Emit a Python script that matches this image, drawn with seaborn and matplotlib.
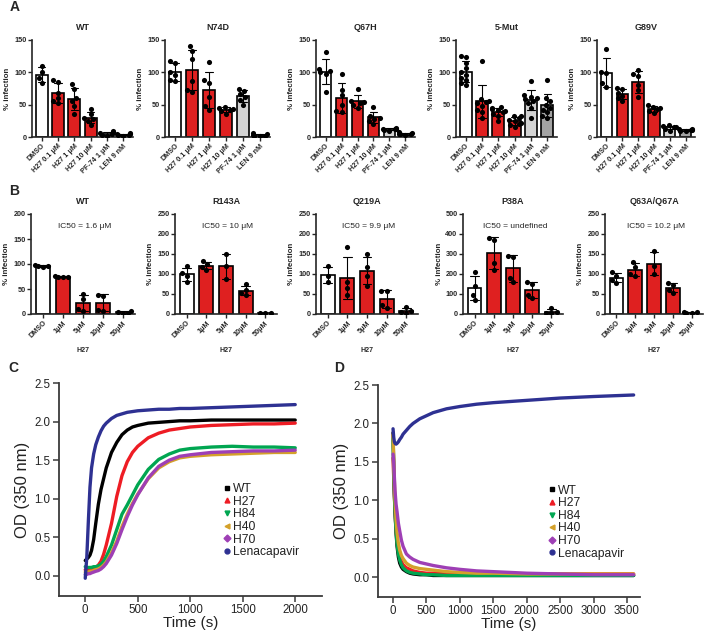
import warnings
import pandas as pd
import matplotlib
matplotlib.use("Agg")
import matplotlib.pyplot as plt
from matplotlib.lines import Line2D
import seaborn as sns

warnings.filterwarnings("ignore")

# --- Panel A: % infection per condition (individual replicates) ---
a_conditions = ["DMSO", "H27 0.1 μM", "H27 1 μM", "H27 10 μM", "PF-74 1 μM", "LEN 9 nM"]
a_titles = ["WT", "N74D", "Q67H", "5-Mut", "G89V"]
a_wt = [[110, 101, 91, 84], [88, 85, 68, 60, 55, 52], [82, 75, 60, 55, 48, 35],
        [44, 35, 30, 28, 25, 18], [9, 8, 6, 4, 3, 2], [6, 5, 4, 3, 2, 3]]
a_n74d = [[118, 115, 100, 96, 88, 86], [140, 133, 120, 86, 73, 70], [116, 88, 84, 62, 48, 42],
          [46, 45, 43, 42, 40, 36], [75, 71, 66, 62, 57, 50], [6, 4, 3, 2, 2, 1]]
a_q67h = [[132, 105, 102, 100, 98, 70], [98, 73, 65, 50, 40, 38], [75, 56, 54, 52, 50, 45],
          [46, 33, 30, 28, 25, 20], [14, 13, 12, 12, 11, 10], [7, 6, 5, 4, 4, 3]]
a_5mut = [[126, 124, 115, 107, 100, 96, 92, 88, 84, 80], [118, 58, 56, 54, 52, 48, 42, 38, 30],
          [47, 45, 43, 41, 40, 38, 36, 33, 25], [33, 32, 30, 27, 25, 22, 20, 18, 15],
          [87, 65, 62, 60, 58, 55, 52, 45, 30], [88, 60, 55, 50, 45, 42, 38, 32, 30]]
a_g89v = [[136, 101, 99, 83, 78], [76, 74, 68, 64, 60, 56], [104, 98, 95, 80, 72, 62],
          [50, 47, 45, 43, 40, 37], [18, 17, 16, 15, 13, 10], [13, 12, 11, 11, 10, 9]]

# --- Panel B: H27 dose response ---
b_conditions = ["DMSO", "1μM", "5μM", "10μM", "50μM"]
b_titles = ["WT", "R143A", "Q219A", "P38A", "Q63A/Q67A"]
b_ic50 = ["IC50 = 1.6 μM", "IC50 = 10 μM", "IC50 = 9.9 μM", "IC50 = undefined", "IC50 = 10.2 μM"]
b_ymax = [200, 250, 250, 500, 250]
b_ystep = [50, 50, 50, 100, 50]
b_wt = [[99, 97, 96, 94], [76, 75, 75, 74], [41, 30, 10, 7], [38, 36, 9, 6], [6, 4, 2, 1]]
b_r143a = [[120, 102, 96, 80], [133, 124, 118, 110], [150, 120, 88], [75, 60, 52, 47], [3, 2, 2]]
b_q219a = [[120, 95, 80], [168, 80, 64, 48], [150, 118, 95, 70], [58, 57, 22, 15], [18, 8, 4, 2]]
b_p38a = [[208, 140, 95, 70], [380, 368, 255, 218], [288, 285, 180, 160], [160, 148, 95, 78], [30, 10, 5, 3]]
b_q63a = [[104, 95, 85, 78], [130, 118, 100, 94], [157, 120, 100], [77, 72, 60, 52], [5, 4, 3, 2]]

# --- Panel C: assembly kinetics, OD 350 nm ---
samples = ["WT", "H27", "H84", "H40", "H70", "Lenacapavir"]
c_time = [0, 15, 30, 45, 60, 80, 100, 125, 150, 175, 200, 250, 300, 350, 400, 450, 500,
          600, 700, 800, 900, 1000, 1200, 1400, 1600, 1800, 2000]
c_wt = [0.20, 0.22, 0.24, 0.27, 0.33, 0.47, 0.68, 0.93, 1.12, 1.26, 1.40, 1.60, 1.73, 1.83, 1.89,
        1.93, 1.95, 1.98, 1.99, 2.00, 2.01, 2.01, 2.02, 2.02, 2.02, 2.02, 2.02]
c_h27 = [0.08, 0.08, 0.08, 0.09, 0.09, 0.10, 0.11, 0.14, 0.19, 0.28, 0.40, 0.68, 1.03, 1.30, 1.48,
         1.60, 1.68, 1.79, 1.85, 1.89, 1.91, 1.93, 1.95, 1.96, 1.97, 1.97, 1.98]
c_h84 = [0.12, 0.11, 0.11, 0.11, 0.11, 0.12, 0.12, 0.13, 0.15, 0.19, 0.25, 0.40, 0.60, 0.80, 0.92,
         1.05, 1.18, 1.38, 1.51, 1.58, 1.63, 1.65, 1.67, 1.68, 1.67, 1.67, 1.66]
c_h40 = [0.05, 0.05, 0.05, 0.06, 0.06, 0.07, 0.08, 0.09, 0.11, 0.14, 0.18, 0.30, 0.45, 0.64, 0.80,
         0.94, 1.06, 1.26, 1.40, 1.48, 1.53, 1.55, 1.57, 1.58, 1.59, 1.60, 1.60]
c_h70 = [0.02, 0.02, 0.03, 0.03, 0.04, 0.05, 0.06, 0.07, 0.09, 0.12, 0.16, 0.27, 0.42, 0.60, 0.77,
         0.92, 1.05, 1.27, 1.42, 1.50, 1.55, 1.57, 1.60, 1.61, 1.62, 1.62, 1.63]
c_len = [-0.03, 0.25, 0.72, 1.15, 1.40, 1.58, 1.70, 1.80, 1.88, 1.94, 1.98, 2.04, 2.08, 2.10, 2.12,
         2.13, 2.14, 2.15, 2.16, 2.16, 2.17, 2.17, 2.18, 2.19, 2.20, 2.21, 2.22]

# --- Panel D: disassembly kinetics ---
d_time = [0, 10, 20, 30, 45, 60, 80, 100, 125, 150, 200, 250, 300, 400, 500, 600, 800, 1000,
          1250, 1500, 2000, 2500, 3000, 3600]
d_wt = [1.88, 1.45, 1.10, 0.85, 0.58, 0.40, 0.26, 0.18, 0.13, 0.10, 0.07, 0.05, 0.04, 0.03, 0.03,
        0.02, 0.02, 0.02, 0.02, 0.02, 0.02, 0.02, 0.02, 0.02]
d_h27 = [1.55, 1.30, 1.05, 0.85, 0.62, 0.47, 0.34, 0.26, 0.20, 0.16, 0.12, 0.10, 0.08, 0.06, 0.05,
         0.05, 0.04, 0.04, 0.04, 0.04, 0.04, 0.04, 0.04, 0.04]
d_h84 = [1.80, 1.40, 1.08, 0.85, 0.60, 0.43, 0.30, 0.22, 0.16, 0.12, 0.08, 0.06, 0.05, 0.04, 0.03,
         0.03, 0.02, 0.02, 0.02, 0.02, 0.02, 0.02, 0.02, 0.02]
d_h40 = [1.85, 1.55, 1.25, 1.00, 0.75, 0.58, 0.44, 0.35, 0.28, 0.24, 0.18, 0.15, 0.13, 0.11, 0.10,
         0.09, 0.07, 0.06, 0.05, 0.05, 0.04, 0.04, 0.04, 0.04]
d_h70 = [1.60, 1.50, 1.30, 1.12, 0.95, 0.85, 0.70, 0.60, 0.48, 0.40, 0.30, 0.26, 0.23, 0.19, 0.17,
         0.15, 0.12, 0.10, 0.08, 0.07, 0.05, 0.04, 0.03, 0.03]
d_len = [1.93, 1.82, 1.76, 1.74, 1.73, 1.74, 1.76, 1.79, 1.82, 1.86, 1.91, 1.96, 2.00, 2.06, 2.10,
         2.14, 2.19, 2.22, 2.25, 2.27, 2.30, 2.33, 2.35, 2.37]

RED = "#ff0000"
a_colors = ["white", RED, RED, RED, "#d3d3d3", "#a3a3a3"]
b_colors = ["white", RED, RED, RED, RED]
curve_colors = ["#000000", "#ee1c24", "#00a651", "#d4a12a", "#9e3fb5", "#2e3192"]
curve_markers = ["s", "^", "v", "<", "D", "o"]

W, H = 705, 634
sns.set_style("ticks")
plt.rcParams["font.family"] = ["Liberation Sans", "DejaVu Sans"]
fig = plt.figure(figsize=(W / 100, H / 100), dpi=100)


def px_axes(left, top, right, bottom):
    return fig.add_axes([left / W, 1 - bottom / H, (right - left) / W, (bottom - top) / H])


def bar_panel(ax, cats, groups, colors, ymax, ystep, title):
    rows = [(c, v) for c, g in zip(cats, groups) for v in g]
    df = pd.DataFrame(rows, columns=["cond", "val"])
    sns.barplot(data=df, x="cond", y="val", hue="cond", order=cats, hue_order=cats,
                palette=dict(zip(cats, colors)), errorbar="sd", capsize=0.45,
                err_kws={"color": "black", "linewidth": 0.8}, edgecolor="black",
                linewidth=1.2, width=0.72, legend=False, ax=ax)
    sns.swarmplot(data=df, x="cond", y="val", order=cats, color="black", size=3.7, ax=ax)
    ax.set_ylim(0, ymax)
    ax.set_yticks(range(0, ymax + 1, ystep))
    ax.set_xlim(-0.6, len(cats) - 0.4)
    sns.despine(ax=ax)
    for s in ["left", "bottom"]:
        ax.spines[s].set_linewidth(1.2)
    ax.tick_params(width=1, length=3, labelsize=5.2, pad=1)
    ax.set_xticks(range(len(cats)))
    ax.set_xticklabels(cats, rotation=45, ha="right", rotation_mode="anchor", fontweight="bold")
    for lbl in ax.get_yticklabels():
        lbl.set_fontweight("bold")
    ax.set_xlabel("")
    ax.set_ylabel("% infection", fontsize=5.7, fontweight="bold", labelpad=2)
    ax.set_title(title, fontsize=6.5, fontweight="bold", pad=7)


# Panel A
a_data = [a_wt, a_n74d, a_q67h, a_5mut, a_g89v]
a_left = [32, 165, 316, 456, 597]
a_right = [133, 270, 415, 557, 695]
for i in range(5):
    ax = px_axes(a_left[i], 40, a_right[i], 137)
    bar_panel(ax, a_conditions, a_data[i], a_colors, 150, 50, a_titles[i])

# Panel B
b_data = [b_wt, b_r143a, b_q219a, b_p38a, b_q63a]
b_left = [31, 175, 316, 463, 605]
b_right = [135, 277, 418, 563, 703]
for i in range(5):
    ax = px_axes(b_left[i], 214, b_right[i], 314)
    bar_panel(ax, b_conditions, b_data[i], b_colors, b_ymax[i], b_ystep[i], b_titles[i])
    ax.text(0.52, 0.88, b_ic50[i], transform=ax.transAxes, ha="center", va="center", fontsize=6)
    fig.text((b_left[i] + b_right[i]) / 2 / W, 1 - 350 / H, "H27", ha="center", va="center",
             fontsize=5, fontweight="bold")


def kinetic_panel(ax, time, curves, xlim, xticks):
    rows = [(t, v, s) for s, vals in zip(samples, curves) for t, v in zip(time, vals)]
    df = pd.DataFrame(rows, columns=["t", "od", "sample"])
    sns.lineplot(data=df, x="t", y="od", hue="sample", hue_order=samples,
                 palette=dict(zip(samples, curve_colors)), linewidth=2.4, legend=False, ax=ax)
    ax.set_xlim(*xlim)
    ax.set_ylim(-0.26, 2.5)
    ax.set_xticks(xticks)
    ax.set_yticks([0, 0.5, 1.0, 1.5, 2.0, 2.5])
    ax.set_yticklabels(["0.0", "0.5", "1.0", "1.5", "2.0", "2.5"])
    sns.despine(ax=ax)
    for s in ["left", "bottom"]:
        ax.spines[s].set_linewidth(1.3)
        ax.spines[s].set_color("#3a3a3a")
    ax.tick_params(width=1.1, length=4, labelsize=8.3, pad=2, colors="#3a3a3a", labelcolor="#222222")
    ax.set_xlabel("Time (s)", fontsize=11, color="#222222", labelpad=0)
    ax.set_ylabel("OD (350 nm)", fontsize=12, color="#222222", labelpad=3)
    handles = [Line2D([], [], marker=m, color=c, linestyle="None", markersize=3.5)
               for m, c in zip(curve_markers, curve_colors)]
    return handles


# Panel C
ax_c = px_axes(59, 383, 322, 596)
hc = kinetic_panel(ax_c, c_time, [c_wt, c_h27, c_h84, c_h40, c_h70, c_len], (-250, 2255),
                   [0, 500, 1000, 1500, 2000])
ax_c.legend(hc, samples, loc="upper left", bbox_to_anchor=(0.62, 0.53), frameon=False,
            fontsize=8.7, labelspacing=0.05, handletextpad=0.1, handlelength=0.8,
            borderpad=0, borderaxespad=0, labelcolor="#222222")

# Panel D
ax_d = px_axes(378, 385, 640, 597)
hd = kinetic_panel(ax_d, d_time, [d_wt, d_h27, d_h84, d_h40, d_h70, d_len], (-225, 3695),
                   [0, 500, 1000, 1500, 2000, 2500, 3000, 3500])
ax_d.legend(hd, samples, loc="upper left", bbox_to_anchor=(0.645, 0.53), frameon=False,
            fontsize=8.7, labelspacing=0.05, handletextpad=0.1, handlelength=0.8,
            borderpad=0, borderaxespad=0, labelcolor="#222222")

# Panel letters
for letter, x, y in [("A", 10, 7), ("B", 9, 191), ("C", 8, 368), ("D", 334, 368)]:
    fig.text(x / W, 1 - y / H, letter, fontsize=10, fontweight="bold", ha="left", va="center")

fig.savefig("out.png", dpi=100)
plt.close(fig)
